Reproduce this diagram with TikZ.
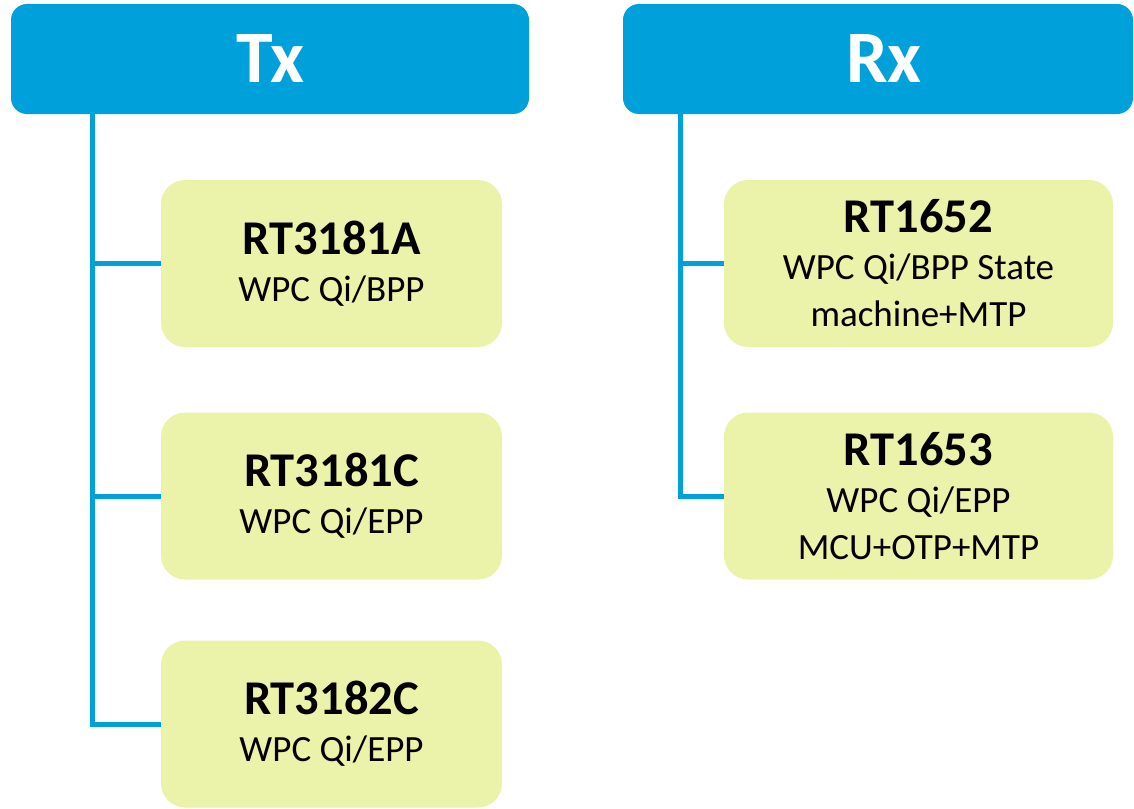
\documentclass[tikz,border=0pt]{standalone}
\usepackage{fontspec}
\setmainfont{Carlito}
\usetikzlibrary{calc}
\definecolor{hdrblue}{RGB}{0,161,218}
\definecolor{boxgreen}{RGB}{235,242,170}
\tikzset{
  hdr/.style={fill=hdrblue, draw=none, rounded corners=16pt, text=white,
    font=\fontsize{74}{74}\selectfont\bfseries, inner sep=0pt},
  chip/.style={fill=boxgreen, draw=none, rounded corners=24pt, align=center,
    minimum width=341pt, minimum height=167pt, inner sep=0pt,
    font=\fontsize{37}{47}\selectfont},
  conn/.style={draw=hdrblue, line width=5pt},
}
\newcommand{\ttl}[1]{{\fontsize{48.5}{47}\selectfont\bfseries #1}}
\begin{document}
\begin{tikzpicture}[x=1pt,y=-1pt]
\useasboundingbox (0,0) rectangle (1134,808);
% headers
\node[hdr, minimum width=518pt, minimum height=110pt] (tx) at (270,59) {Tx};
\node[hdr, minimum width=510pt, minimum height=110pt] (rx) at (878,59) {\hspace*{12pt}Rx};
% Tx chips
\node[chip] (a1) at (331.5,263.5) {\ttl{RT3181A}\\WPC Qi/BPP};
\node[chip] (a2) at (331.5,496) {\ttl{RT3181C}\\WPC Qi/EPP};
\node[chip] (a3) at (331.5,724) {\ttl{RT3182C}\\WPC Qi/EPP};
% Rx chips
\node[chip, minimum width=389pt] (b1) at (918.5,263.5) {\ttl{RT1652}\\WPC Qi/BPP State\\machine+MTP};
\node[chip, minimum width=389pt] (b2) at (918.5,496) {\ttl{RT1653}\\WPC Qi/EPP\\MCU+OTP+MTP};
% connectors
\coordinate (txs) at ($(tx.south west)+(82,0)$);
\coordinate (rxs) at ($(rx.south west)+(58,0)$);
\draw[conn] (txs) |- (a3.west);
\draw[conn] (txs |- a1.west) -- (a1.west);
\draw[conn] (txs |- a2.west) -- (a2.west);
\draw[conn] (rxs) |- (b2.west);
\draw[conn] (rxs |- b1.west) -- (b1.west);
\end{tikzpicture}
\end{document}
